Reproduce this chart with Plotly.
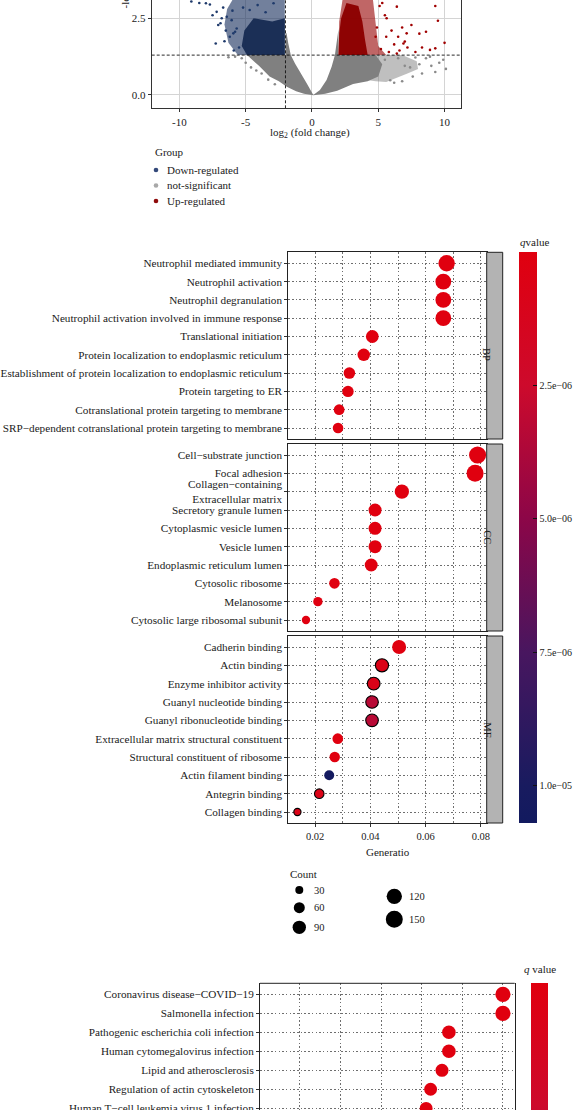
import plotly.graph_objects as go

W, H = 576, 1110
FONT = "Liberation Serif"
TXT = "#1a1a1a"

def pxx(x):
    return x / W

def pxy(y):
    return 1 - y / H

# ---------------- Volcano plot data (dense clouds as outlines, sparse points listed) -----------
gray_core_x = [-2.0, -1.91, -1.79, -1.6, -1.28, -0.9, -0.4, 0.1, 0.6, 1.1, 1.48, 1.73, 1.86, 1.94, 2.0,
               2.0, 4.8, 5.3, 5.0, 4.2, 3.1, 1.9, 1.0, 0.1, -0.6, -1.2, -1.9, -2.5, -3.2, -4.0, -4.9, -2.0]
gray_core_y = [2.05, 2.0, 1.69, 1.3, 1.03, 0.76, 0.38, 0.0, 0.16, 0.49, 0.92, 1.3, 1.69, 2.0, 2.15,
               1.3, 1.3, 1.0, 0.6, 0.45, 0.36, 0.14, 0.04, -0.01, 0.04, 0.12, 0.27, 0.45, 0.6, 0.95, 1.3, 1.3]
gray_outer_x = [4.5, 6.8, 7.9, 8.0, 7.2, 6.4, 5.6, 4.8, 4.0]
gray_outer_y = [1.3, 1.3, 1.1, 0.85, 0.7, 0.55, 0.42, 0.45, 0.5]
gray_pts_x = [8.6, 9.0, 9.6, 10.1, 8.3, 7.6, 6.8, 6.2, 5.9, 7.0, 7.8, 8.9, 9.3, 6.5, 5.5,
              -5.3, -5.8, -6.3, -4.6, -5.0, -3.8, -3.3, -4.2, -2.8, 8.1, 7.4, 9.9]
gray_pts_y = [1.2, 0.95, 1.05, 0.85, 0.7, 0.6, 0.45, 0.4, 0.48, 0.95, 1.22, 1.25, 0.75, 1.2, 1.15,
              1.2, 1.25, 1.23, 0.9, 1.05, 0.7, 0.5, 0.8, 0.35, 1.0, 0.9, 1.15]

blue_outer_x = [-2.05, -5.6, -6.3, -6.6, -6.4, -6.0, -2.05]
blue_outer_y = [1.3, 1.3, 1.7, 2.3, 2.8, 3.1, 3.1]
blue_inner_x = [-2.05, -4.9, -5.3, -5.1, -4.4, -3.0, -2.05]
blue_inner_y = [1.3, 1.3, 1.6, 2.1, 2.5, 2.4, 2.5]
blue_pts_x = [-9.1, -8.0, -7.7, -7.19, -7.07, -7.26, -6.9, -6.43, -6.81, -6.06, -5.93, -5.68, -5.8, -6.2,
              -5.5, -6.5, -7.5, -8.5, -6.0, -6.7, -5.9, -6.6, -4.7, -4.1, -2.9, -3.5, -5.2]
blue_pts_y = [3.05, 2.99, 2.95, 2.71, 2.28, 1.68, 2.34, 2.55, 2.5, 2.44, 2.01, 2.17, 2.06, 1.9,
              1.55, 2.1, 2.6, 3.0, 2.75, 2.85, 1.45, 1.75, 2.77, 2.93, 2.99, 2.7, 2.85]

red_outer_x = [2.0, 5.6, 5.0, 4.8, 4.6, 2.3, 2.05]
red_outer_y = [1.3, 1.3, 1.6, 2.3, 3.1, 3.1, 2.4]
red_inner_x = [2.0, 4.2, 4.0, 3.8, 3.5, 2.6, 2.2, 2.05]
red_inner_y = [1.3, 1.3, 1.8, 2.4, 2.9, 3.0, 2.5, 2.0]
red_pts_x = [5.2, 5.8, 6.2, 6.6, 7.0, 7.5, 8.1, 8.6, 8.9, 9.3, 9.5, 9.3, 10.0, 6.0, 5.5, 5.1, 4.9, 6.4,
             7.8, 5.3, 6.8, 7.2, 8.3, 4.8, 5.6, 6.4, 5.63, 7.14, 6.5, 6.9]
red_pts_y = [1.5, 1.4, 1.65, 1.45, 1.74, 2.28, 2.0, 2.06, 1.47, 1.52, 2.42, 2.9, 1.7, 2.1, 2.6, 2.9, 2.2, 1.35,
             1.4, 3.0, 2.2, 1.55, 1.55, 1.9, 1.9, 2.88, 2.5, 2.01, 1.9, 1.68]

fc_cut = -2.0
p_cut = 1.3

# ---------------- GO enrichment data ----------------
bp_terms = ["Neutrophil mediated immunity", "Neutrophil activation", "Neutrophil degranulation",
            "Neutrophil activation involved in immune response", "Translational initiation",
            "Protein localization to endoplasmic reticulum",
            "Establishment of protein localization to endoplasmic reticulum", "Protein targeting to ER",
            "Cotranslational protein targeting to membrane",
            "SRP\u2212dependent cotranslational protein targeting to membrane"]
bp_ratio = [0.0676, 0.0664, 0.0664, 0.0664, 0.0407, 0.0376, 0.0324, 0.0319, 0.0287, 0.0283]
bp_count = [140, 128, 128, 128, 82, 78, 66, 64, 57, 55]
bp_q = [1e-10, 1e-10, 1e-10, 1e-10, 2e-9, 3e-9, 4e-9, 4e-9, 5e-9, 5e-9]
bp_outline = [0, 0, 0, 0, 0, 0, 0, 0, 0, 0]

cc_terms = ["Cell\u2212substrate junction", "Focal adhesion", "Collagen\u2212containing<br>Extracellular matrix",
            "Secretory granule lumen", "Cytoplasmic vesicle lumen", "Vesicle lumen",
            "Endoplasmic reticulum lumen", "Cytosolic ribosome", "Melanosome",
            "Cytosolic large ribosomal subunit"]
cc_ratio = [0.0788, 0.0779, 0.0514, 0.0417, 0.0417, 0.0417, 0.0403, 0.0270, 0.0210, 0.0167]
cc_count = [152, 150, 104, 86, 86, 86, 84, 56, 42, 33]
cc_q = [1e-12, 1e-12, 1e-10, 1e-9, 1e-9, 1e-9, 2e-9, 3e-9, 5e-8, 6e-8]
cc_outline = [0, 0, 0, 0, 0, 0, 0, 0, 0, 0]

mf_terms = ["Cadherin binding", "Actin binding", "Enzyme inhibitor activity", "Guanyl nucleotide binding",
            "Guanyl ribonucleotide binding", "Extracellular matrix structural constituent",
            "Structural constituent of ribosome", "Actin filament binding", "Antegrin binding",
            "Collagen binding"]
mf_ratio = [0.0504, 0.0442, 0.0412, 0.0406, 0.0406, 0.0282, 0.0271, 0.0251, 0.0215, 0.0136]
mf_count = [100, 88, 82, 80, 80, 56, 54, 49, 44, 24]
mf_q = [1e-9, 6e-7, 8e-7, 3.3e-6, 3.3e-6, 2e-8, 4e-8, 1.05e-5, 7e-7, 7e-7]
mf_outline = [0, 1, 1, 1, 1, 0, 0, 0, 1, 1]

# ---------------- KEGG enrichment data ----------------
kegg_terms = ["Coronavirus disease\u2212COVID\u221219", "Salmonella infection",
              "Pathogenic escherichia coli infection", "Human cytomegalovirus infection",
              "Lipid and atherosclerosis", "Regulation of actin cytoskeleton",
              "Human T\u2212cell leukemia virus 1 infection"]
kegg_ratio = [0.0700, 0.0700, 0.0567, 0.0567, 0.0550, 0.0522, 0.0511]
kegg_count = [118, 118, 94, 94, 86, 84, 82]
kegg_q = [1e-12, 1e-12, 1e-10, 1e-10, 1e-10, 1e-9, 1e-9]

count_legend = [30, 60, 90, 120, 150]
q_ticks = [2.5e-6, 5.0e-6, 7.5e-6, 1.0e-5]
q_tick_text = ["2.5e\u221206", "5.0e\u221206", "7.5e\u221206", "1.0e\u221205"]


def dot_size(c):
    return 0.71 + 1.33 * c ** 0.5


colorscale = [[0.0, "#121a5f"], [0.065, "#181b5f"], [0.299, "#48165f"], [0.533, "#8c0648"],
              [0.766, "#cd0a2c"], [1.0, "#e0000f"]]

fig = go.Figure()

# ---- volcano traces
def poly(x, y, color):
    fig.add_trace(go.Scatter(x=x, y=y, fill="toself", fillcolor=color, mode="lines",
                             line=dict(width=0), hoverinfo="skip", showlegend=False,
                             xaxis="x", yaxis="y"))

def pts(x, y, color):
    fig.add_trace(go.Scatter(x=x, y=y, mode="markers", marker=dict(size=2.6, color=color),
                             hoverinfo="skip", showlegend=False, xaxis="x", yaxis="y"))

poly(gray_outer_x, gray_outer_y, "rgba(128,128,128,0.5)")
poly(gray_core_x, gray_core_y, "rgba(128,128,128,1)")
pts(gray_pts_x, gray_pts_y, "#8a8a8a")
poly(blue_outer_x, blue_outer_y, "rgba(28,50,95,0.62)")
poly(blue_inner_x, blue_inner_y, "rgba(22,42,82,0.95)")
pts(blue_pts_x, blue_pts_y, "#1f3a6b")
poly(red_outer_x, red_outer_y, "rgba(150,0,0,0.6)")
poly(red_inner_x, red_inner_y, "rgba(140,0,0,0.97)")
pts(red_pts_x, red_pts_y, "#a00000")

# ---- GO traces
panels = [("x2", "y2", bp_terms, bp_ratio, bp_count, bp_q, bp_outline),
          ("x3", "y3", cc_terms, cc_ratio, cc_count, cc_q, cc_outline),
          ("x4", "y4", mf_terms, mf_ratio, mf_count, mf_q, mf_outline)]
for i, (xa, ya, terms, ratio, count, q, outl) in enumerate(panels):
    n = len(terms)
    fig.add_trace(go.Scatter(
        x=ratio, y=list(range(n, 0, -1)), mode="markers", xaxis=xa, yaxis=ya,
        marker=dict(size=[dot_size(c) for c in count], color=[-v for v in q],
                    coloraxis="coloraxis", opacity=1,
                    line=dict(width=[1.1 * o for o in outl], color="black")),
        showlegend=False, hoverinfo="skip", cliponaxis=False))

# ---- KEGG trace
fig.add_trace(go.Scatter(
    x=kegg_ratio, y=[-i for i in range(len(kegg_terms))], mode="markers", xaxis="x5", yaxis="y5",
    marker=dict(size=[dot_size(c) for c in kegg_count], color=[-v for v in kegg_q],
                coloraxis="coloraxis2", opacity=1, line=dict(width=0)),
    showlegend=False, hoverinfo="skip"))

tickfont = dict(family=FONT, size=11, color=TXT)
labfont = dict(family=FONT, size=11.2, color=TXT)

layout = dict(
    width=W, height=H, margin=dict(l=0, r=0, t=0, b=0, autoexpand=False),
    autosize=False,
    paper_bgcolor="white", plot_bgcolor="white",
    font=dict(family=FONT, size=11, color=TXT),
    showlegend=False,
)

# volcano axes
layout["xaxis"] = dict(domain=[pxx(151.7), pxx(461.4)], range=[-12.09, 11.27], anchor="y",
                       tickvals=[-10, -5, 0, 5, 10], ticktext=["-10", "-5", "0", "5", "10"],
                       showgrid=True, gridcolor="#d4d4d4", gridwidth=1, zeroline=False,
                       showline=True, linecolor="#333333", linewidth=1, ticks="outside",
                       ticklen=3, tickcolor="#333333", tickfont=tickfont)
layout["yaxis"] = dict(domain=[pxy(108.3), 1.0], range=[-0.434, 3.097], anchor="x",
                       tickvals=[0, 2.5], ticktext=["0.0", "2.5"],
                       showgrid=True, gridcolor="#d4d4d4", gridwidth=1, zeroline=False,
                       showline=True, mirror=True, linecolor="#333333", linewidth=1,
                       ticks="outside", ticklen=3, tickcolor="#333333", tickfont=tickfont)

# GO axes
go_dom_x = [pxx(288.3), pxx(486.7)]
go_dom_y = {"y2": [pxy(439.0), pxy(252.3)], "y3": [pxy(631.0), pxy(444.0)], "y4": [pxy(823.0), pxy(636.0)]}
grid = dict(showgrid=True, gridcolor="#6e6e6e", gridwidth=0.8, griddash="1.5px,2.2px")
for i, (xa, ya, terms, *_rest) in enumerate(panels):
    xk = "xaxis" + xa[1:]
    yk = "yaxis" + ya[1:]
    last = (xa == "x4")
    xd = dict(domain=go_dom_x, range=[0.0103, 0.0821], anchor=ya, tick0=0, dtick=0.02,
              tickformat=".2f", showticklabels=last, ticks="outside" if last else "",
              ticklen=3, tickcolor="#333333", zeroline=False,
              showline=True, mirror=True, linecolor="#222222", linewidth=1,
              minor=dict(dtick=0.01, tick0=0, showgrid=True, gridcolor="#6e6e6e",
                         gridwidth=0.8, griddash="1.5px,2.2px"),
              tickfont=dict(family=FONT, size=10.5, color=TXT), **grid)
    if xa != "x2":
        xd["matches"] = "x2"
    layout[xk] = xd
    n = len(terms)
    layout[yk] = dict(domain=go_dom_y[ya], range=[0.4, n + 0.6], anchor=xa,
                      tickvals=list(range(n, 0, -1)), ticktext=terms, zeroline=False,
                      showline=True, mirror=True, linecolor="#222222", linewidth=1,
                      ticks="outside", ticklen=3, tickcolor="#333333",
                      tickfont=labfont, **grid)

# KEGG axes
layout["xaxis5"] = dict(domain=[pxx(260.0), pxx(514.7)], range=[0.0102, 0.0729], anchor="y5",
                        tick0=0, dtick=0.01, showticklabels=False, ticks="", zeroline=False,
                        showline=False, **grid)
layout["yaxis5"] = dict(domain=[0.0, pxy(983.3)], range=[-6.09, 0.579], anchor="x5",
                        tickvals=[-i for i in range(len(kegg_terms))], ticktext=kegg_terms,
                        zeroline=False, showline=True, mirror=True, linecolor="#222222",
                        linewidth=1, ticks="outside", ticklen=3, tickcolor="#333333",
                        ticklabeloverflow="allow", tickfont=labfont, **grid)

cb_common = dict(thicknessmode="pixels", lenmode="pixels", xanchor="left", yanchor="top",
                 xpad=0, ypad=0, outlinewidth=0, borderwidth=0,
                 tickfont=dict(family=FONT, size=10, color=TXT))
layout["coloraxis"] = dict(cmin=-1.07e-5, cmax=0.0, colorscale=colorscale,
                           colorbar=dict(x=pxx(519.0), y=pxy(252.0), len=571, thickness=17.7,
                                         tickvals=[-v for v in q_ticks], ticktext=q_tick_text,
                                         ticks="inside", ticklen=4, tickcolor="#111111", tickwidth=1,
                                         **cb_common))
layout["coloraxis2"] = dict(cmin=-1.07e-5, cmax=0.0, colorscale=colorscale,
                            colorbar=dict(x=pxx(530.5), y=pxy(983.3), len=520, thickness=17.3,
                                          tickvals=[-v for v in q_ticks], ticktext=q_tick_text,
                                          ticks="", showticklabels=False, **cb_common))

shapes = []
# volcano cutoff lines
shapes.append(dict(type="line", xref="x", yref="y", x0=fc_cut, x1=fc_cut, y0=-0.434, y1=3.2,
                   line=dict(color="#111111", width=0.9, dash="3px,2px")))
shapes.append(dict(type="line", xref="x", yref="y", x0=-12.09, x1=11.27, y0=p_cut, y1=p_cut,
                   line=dict(color="#111111", width=0.9, dash="3px,2px")))
# GO strips
for lab, (y0, y1) in zip(["BP", "CC", "MF"], go_dom_y.values()):
    shapes.append(dict(type="rect", xref="paper", yref="paper", x0=pxx(486.7), x1=pxx(502.7),
                       y0=y0, y1=y1, fillcolor="#b3b3b3", line=dict(color="#222222", width=1)))
# KEGG top border
shapes.append(dict(type="line", xref="paper", yref="paper", x0=pxx(260.0), x1=pxx(514.7),
                   y0=pxy(983.3), y1=pxy(983.3), line=dict(color="#222222", width=1)))

annotations = []
def ann(text, x, y, xanchor="center", yanchor="middle", size=11, angle=0):
    annotations.append(dict(text=text, x=pxx(x), y=pxy(y), xref="paper", yref="paper",
                            xanchor=xanchor, yanchor=yanchor, showarrow=False, textangle=angle,
                            font=dict(family=FONT, size=size, color=TXT)))

# volcano titles
ann("log<sub>2</sub> (fold change)", 310, 133)
ann("-log<sub>10</sub> (<i>P</i> value)", 125, 11, yanchor="bottom", angle=-90)
# volcano legend
ann("Group", 153, 152, xanchor="left")
leg = [("Down-regulated", "#34497a", 170), ("not-significant", "#a8a8a8", 185.5), ("Up-regulated", "#8f0b0b", 201)]
for name, col, yy in leg:
    shapes.append(dict(type="circle", xref="paper", yref="paper", x0=pxx(156 - 2.3), x1=pxx(156 + 2.3),
                       y0=pxy(yy + 2.3), y1=pxy(yy - 2.3), fillcolor=col, line=dict(width=0)))
    ann(name, 164.5, yy, xanchor="left")

# GO strip labels
for lab, (y0, y1) in zip(["BP", "CC", "MF"], go_dom_y.values()):
    annotations.append(dict(text=lab, x=pxx(494.7), y=(y0 + y1) / 2, xref="paper", yref="paper",
                            showarrow=False, textangle=90,
                            font=dict(family=FONT, size=10.5, color=TXT)))
ann("<i>q</i>value", 518, 242, xanchor="left")
ann("Generatio", 387.7, 852)
# count legend
ann("Count", 288, 874, xanchor="left")
cl_pos = [(299.3, 890.0), (299.3, 907.7), (299.3, 927.3), (394.3, 896.3), (394.3, 919.3)]
for c, (cx, cy) in zip(count_legend, cl_pos):
    r = dot_size(c) / 2
    shapes.append(dict(type="circle", xref="paper", yref="paper", x0=pxx(cx - r), x1=pxx(cx + r),
                       y0=pxy(cy + r), y1=pxy(cy - r), fillcolor="black", line=dict(width=0)))
    ann(str(c), cx + 12.4, cy, xanchor="left", size=10.5)
# KEGG colorbar title
ann("<i>q</i> value", 539.5, 969)

layout["shapes"] = shapes
layout["annotations"] = annotations
fig.update_layout(**layout)
fig.write_html("out.html", config={"displayModeBar": False},
               post_script="document.body.style.margin='0px';document.body.style.overflow='hidden';")
